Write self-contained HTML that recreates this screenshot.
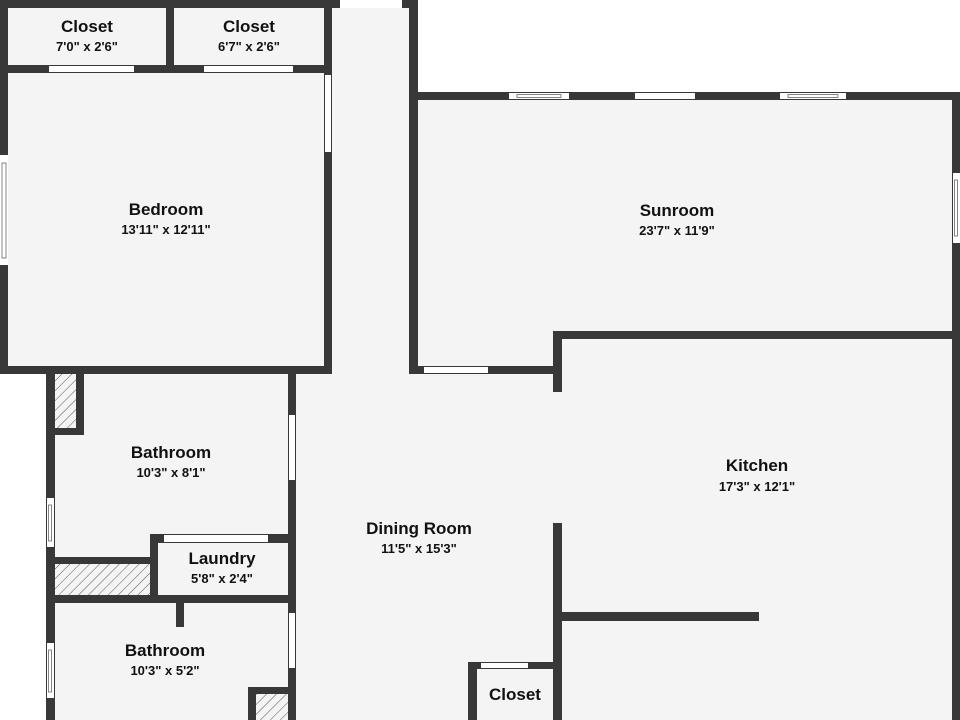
<!DOCTYPE html>
<html><head><meta charset="utf-8"><style>
html,body{margin:0;padding:0;background:#fff;}
svg{display:block;}
text{font-family:"Liberation Sans",sans-serif;fill:#111;text-anchor:middle;}
.n{font-size:17px;font-weight:bold;}
.d{font-size:13px;font-weight:bold;}
</style></head><body>
<svg width="960" height="720" viewBox="0 0 960 720" xmlns="http://www.w3.org/2000/svg">
<defs>
<pattern id="h" width="7" height="7" patternUnits="userSpaceOnUse" patternTransform="rotate(45)">
<rect width="7" height="7" fill="#f4f4f4"/><line x1="0" y1="0" x2="0" y2="7" stroke="#555" stroke-width="1"/>
</pattern>
</defs>
<polygon points="0,0 417,0 417,92 960,92 960,720 46,720 46,374 0,374" fill="#f4f4f4"/>
<g fill="#383838">
<!-- top left block -->
<rect x="0" y="0" width="340" height="8"/>
<rect x="402" y="0" width="16" height="8"/>
<rect x="0" y="0" width="8" height="374"/>
<rect x="166" y="0" width="8" height="72"/>
<rect x="0" y="65" width="332" height="8"/>
<rect x="324" y="0" width="8" height="374"/>
<rect x="0" y="366" width="332" height="8"/>
<!-- corridor right / sunroom left -->
<rect x="409" y="0" width="9" height="374"/>
<!-- sunroom -->
<rect x="409" y="92" width="551" height="8"/>
<rect x="952" y="92" width="8" height="628"/>
<rect x="409" y="366" width="152" height="8"/>
<rect x="553" y="331" width="407" height="8"/>
<rect x="553" y="331" width="9" height="61"/>
<!-- kitchen -->
<rect x="553" y="523" width="9" height="197"/>
<rect x="562" y="612" width="197" height="9"/>
<!-- dining closet -->
<rect x="468" y="662" width="9" height="58"/>
<rect x="468" y="662" width="86" height="7"/>
<!-- bathrooms -->
<rect x="46" y="366" width="9" height="354"/>
<rect x="76" y="374" width="8" height="61"/>
<rect x="46" y="428" width="38" height="7"/>
<rect x="288" y="366" width="8" height="354"/>
<rect x="46" y="557" width="110" height="7"/>
<rect x="150" y="534" width="8" height="69"/>
<rect x="150" y="534" width="145" height="9"/>
<rect x="46" y="595" width="250" height="8"/>
<rect x="176" y="603" width="8" height="24"/>
<rect x="248" y="687" width="8" height="33"/>
<rect x="248" y="687" width="48" height="7"/>
</g>
<!-- hatched -->
<rect x="55" y="374" width="21" height="54" fill="url(#h)"/>
<rect x="55" y="564" width="95" height="31" fill="url(#h)"/>
<rect x="256" y="694" width="32" height="26" fill="url(#h)"/>
<!-- openings / windows -->
<g fill="#fff">
<rect x="340" y="0" width="62" height="8"/>
<rect x="49" y="66" width="85" height="6"/>
<rect x="204" y="66" width="89" height="6"/>
<rect x="325" y="75" width="6" height="77"/>
<rect x="0" y="155" width="8" height="110"/>
<rect x="509" y="93" width="60" height="6"/>
<rect x="635" y="93" width="60" height="6"/>
<rect x="780" y="93" width="66" height="6"/>
<rect x="953" y="173" width="7" height="70"/>
<rect x="424" y="367" width="64" height="6"/>
<rect x="289" y="415" width="6" height="65"/>
<rect x="289" y="613" width="6" height="55"/>
<rect x="47" y="498" width="7" height="49"/>
<rect x="47" y="643" width="7" height="55"/>
<rect x="164" y="535" width="104" height="7"/>
<rect x="481" y="663" width="47" height="5"/>
</g>
<g stroke="#666" stroke-width="0.8" fill="none">
<rect x="2" y="163" width="4" height="95"/>
<rect x="517" y="94.5" width="44" height="3"/>
<rect x="788" y="94.5" width="50" height="3"/>
<rect x="954.5" y="180" width="3" height="56"/>
<rect x="48.5" y="505" width="3" height="36"/>
<rect x="48.5" y="650" width="3" height="42"/>
</g>
<!-- labels -->
<text class="n" x="87" y="32">Closet</text><text class="d" x="87" y="51">7'0" x 2'6"</text>
<text class="n" x="249" y="32">Closet</text><text class="d" x="249" y="51">6'7" x 2'6"</text>
<text class="n" x="166" y="215">Bedroom</text><text class="d" x="166" y="234">13'11" x 12'11"</text>
<text class="n" x="677" y="216">Sunroom</text><text class="d" x="677" y="235">23'7" x 11'9"</text>
<text class="n" x="757" y="471">Kitchen</text><text class="d" x="757" y="491">17'3" x 12'1"</text>
<text class="n" x="419" y="534">Dining Room</text><text class="d" x="419" y="553">11'5" x 15'3"</text>
<text class="n" x="171" y="458">Bathroom</text><text class="d" x="171" y="477">10'3" x 8'1"</text>
<text class="n" x="222" y="564">Laundry</text><text class="d" x="222" y="583">5'8" x 2'4"</text>
<text class="n" x="165" y="656">Bathroom</text><text class="d" x="165" y="675">10'3" x 5'2"</text>
<text class="n" x="515" y="700">Closet</text>
</svg>
</body></html>
